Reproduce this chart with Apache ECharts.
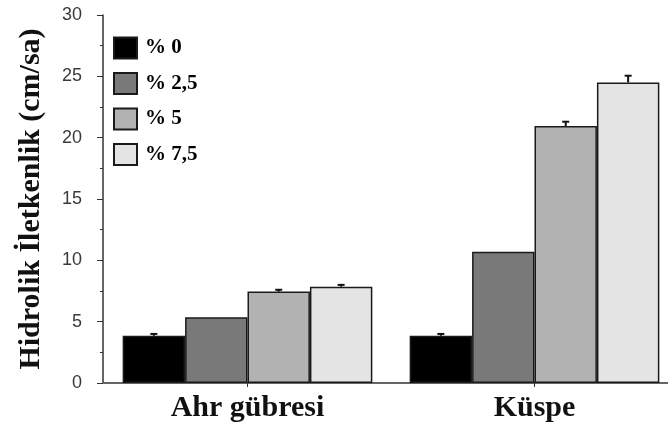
<!DOCTYPE html>
<html>
<head>
<meta charset="utf-8">
<script src="https://cdn.jsdelivr.net/npm/echarts@6/dist/echarts.min.js"></script>
<style>
  html, body { margin: 0; padding: 0; background: #fff; }
  #chart { width: 668px; height: 429px; }
</style>
</head>
<body>
<div id="chart"></div>
<script>
// Materials and amendment rates
const categories = ['Ahr gübresi', 'Küspe'];
const seriesNames = ['% 0', '% 2,5', '% 5', '% 7,5'];
const seriesColors = ['#000000', '#797979', '#b2b2b2', '#e4e4e4'];

// Hydraulic conductivity (cm/sa), one array per rate: [Ahr gübresi, Küspe]
const rate0 = [3.85, 3.85];
const rate25 = [5.35, 10.7];
const rate5 = [7.45, 20.95];
const rate75 = [7.85, 24.5];

// Standard errors, same layout
const err0 = [0.15, 0.15];
const err25 = [0, 0];
const err5 = [0.15, 0.35];
const err75 = [0.15, 0.55];

const yTicks = { min: 0, max: 30, interval: 5 };

const values = [rate0, rate25, rate5, rate75];
const errors = [err0, err25, err5, err75];
const CATEGORY_GAP = 0.13;

const serif = 'Liberation Serif';

const barSeries = seriesNames.map((name, i) => ({
  name: name,
  type: 'bar',
  data: values[i],
  barGap: '0%',
  barCategoryGap: (CATEGORY_GAP * 100) + '%',
  itemStyle: {
    color: seriesColors[i],
    borderColor: '#1a1a1a',
    borderWidth: 1.5
  },
  z: 2
}));

// Error whiskers: one item per bar, [category, series, value, error]
const errData = [];
values.forEach((arr, s) => arr.forEach((v, c) => {
  if (errors[s][c] > 0) errData.push([c, s, v, errors[s][c]]);
}));

const errSeries = {
  type: 'custom',
  silent: true,
  z: 5,
  data: errData,
  encode: { x: 0, y: 2 },
  renderItem: function (params, api) {
    const c = api.value(0), s = api.value(1), v = api.value(2), e = api.value(3);
    const band = api.size([1, 0])[0];
    const bw = band * (1 - CATEGORY_GAP) / seriesNames.length;
    const base = api.coord([c, v]);
    const top = api.coord([c, v + e]);
    const x = base[0] + (s - (seriesNames.length - 1) / 2) * bw;
    const half = 3.5;
    const st = { stroke: '#111', lineWidth: 2 };
    return {
      type: 'group',
      children: [
        { type: 'line', shape: { x1: x, y1: base[1], x2: x, y2: top[1] }, style: st },
        { type: 'line', shape: { x1: x - half, y1: top[1], x2: x + half, y2: top[1] }, style: st }
      ]
    };
  }
};

const chart = echarts.init(document.getElementById('chart'), null, { renderer: 'canvas' });
chart.setOption({
  animation: false,
  backgroundColor: '#ffffff',
  grid: { left: 104, top: 15, width: 574, bottom: 46, containLabel: false, outerBoundsMode: 'none' },
  legend: {
    orient: 'vertical',
    left: 113,
    top: 36.5,
    padding: 0,
    itemWidth: 23,
    itemHeight: 21,
    itemGap: 12.5,
    icon: 'rect',
    selectedMode: false,
    data: seriesNames,
    textStyle: { fontFamily: serif, fontWeight: 'bold', fontSize: 21, color: '#000', padding: [0, 0, 0, 3] }
  },
  xAxis: {
    type: 'category',
    data: categories,
    axisLine: { lineStyle: { color: '#333', width: 1.5 } },
    axisTick: { show: true, alignWithLabel: true, length: 4, lineStyle: { color: '#333' } },
    axisLabel: { fontFamily: serif, fontWeight: 'bold', fontSize: 30, color: '#111', margin: 10 }
  },
  yAxis: {
    type: 'value',
    min: yTicks.min,
    max: yTicks.max,
    interval: yTicks.interval,
    offset: 1,
    name: 'Hidrolik İletkenlik (cm/sa)',
    nameLocation: 'middle',
    nameGap: 57,
    nameTextStyle: { fontFamily: serif, fontWeight: 'bold', fontSize: 30, color: '#111' },
    axisLine: { show: true, lineStyle: { color: '#333', width: 1.5 } },
    axisTick: { show: true, length: 6, lineStyle: { color: '#333' } },
    minorTick: { show: true, splitNumber: 2, length: 3, lineStyle: { color: '#333' } },
    splitLine: { show: false },
    axisLabel: { fontFamily: 'Liberation Sans', fontSize: 18, color: '#3a3a3a', margin: 21 }
  },
  series: barSeries.concat([errSeries])
});
</script>
</body>
</html>
